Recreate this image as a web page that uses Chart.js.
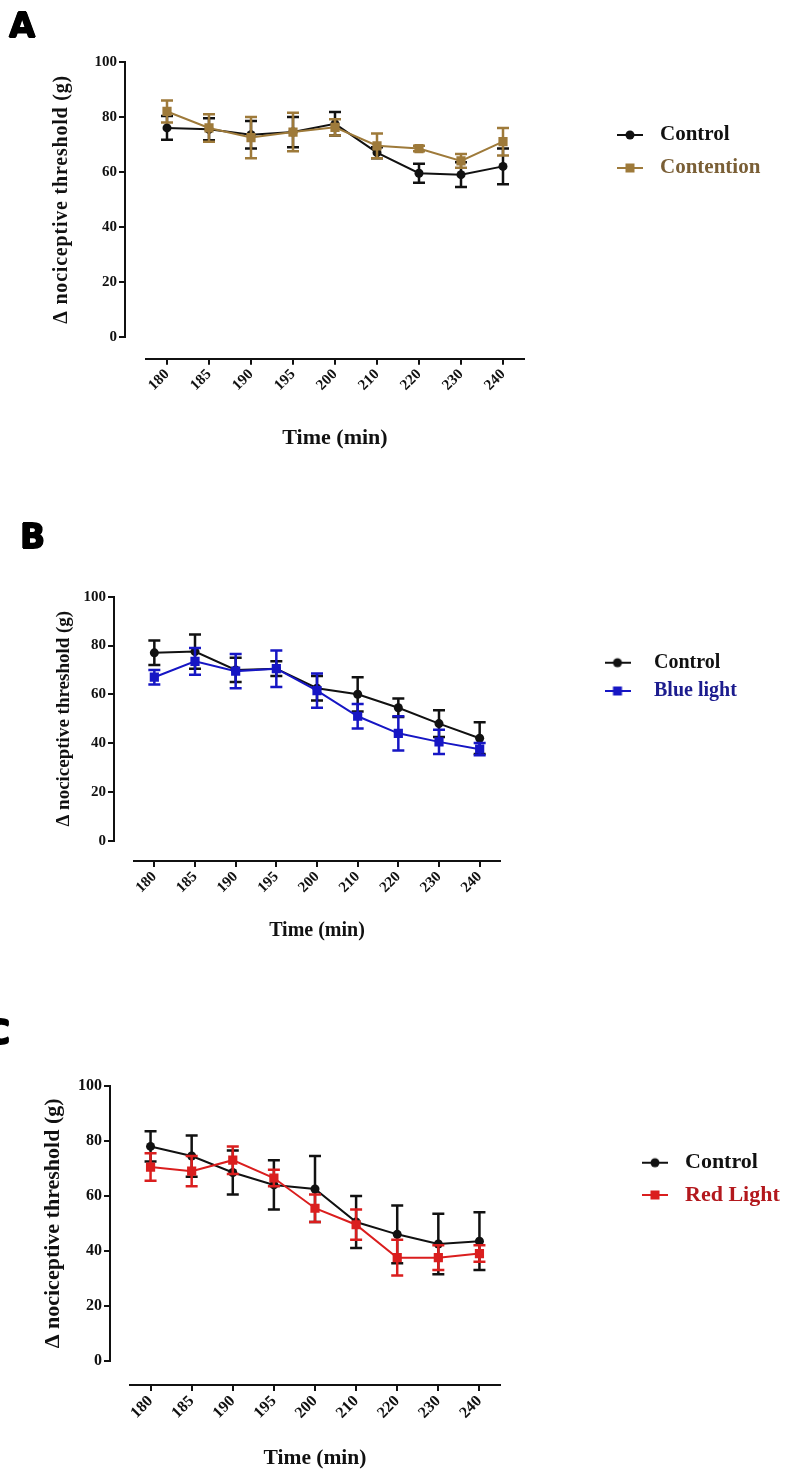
<!DOCTYPE html>
<html><head><meta charset="utf-8">
<script src="https://cdn.jsdelivr.net/npm/chart.js@4.4.1/dist/chart.umd.min.js"></script>
<style>
html,body{margin:0;padding:0;background:#fff;width:791px;height:1475px;overflow:hidden;position:relative;}
canvas{position:absolute;left:0;display:block;}
.tag{position:absolute;font-family:'DejaVu Sans',sans-serif;font-weight:bold;line-height:1;color:#000;z-index:2;
  text-shadow:0.7px 0 0 #000,-0.7px 0 0 #000,0 0.7px 0 #000,0 -0.7px 0 #000;}
</style></head><body>
<div class="tag" style="left:9px;top:8px;font-size:34px">A</div>
<div class="tag" style="left:20px;top:520px;font-size:33px">B</div>
<div class="tag" style="left:-14px;top:1016px;font-size:33px">C</div>
<canvas id="cA" width="791" height="480" style="top:0px"></canvas>
<canvas id="cB" width="791" height="500" style="top:480px"></canvas>
<canvas id="cC" width="791" height="495" style="top:980px"></canvas>
<script>
// ---- data ----
const timeLabels = ['180', '185', '190', '195', '200', '210', '220', '230', '240'];
const yMin = 0, yMax = 100, yStep = 20;

const controlA      = [76, 75.5, 73.5, 74.5, 77.5, 67, 59.5, 59, 62];
const controlAErr   = [4.3, 4, 5, 5.5, 4.3, 2, 3.5, 4.5, 6.5];
const contentionA   = [82, 76, 72.5, 74.5, 76.2, 69.5, 68.5, 64, 71];
const contentionAErr= [4, 5, 7.5, 7, 3, 4.5, 1, 2.5, 5];

const controlB      = [77, 77.5, 70, 70.5, 62.5, 60, 54.5, 48, 42];
const controlBErr   = [5, 7, 5, 3, 5, 7, 3.8, 5.5, 6.5];
const blueLightB    = [67, 73.5, 69.5, 70.5, 61.5, 51, 44, 40.5, 37.5];
const blueLightBErr = [3, 5.5, 7, 7.5, 7, 5, 7, 5, 2.5];

const controlC      = [78, 74.5, 68.5, 64, 62.5, 50.5, 46, 42.5, 43.5];
const controlCErr   = [5.5, 7.5, 8, 9, 12, 9.5, 10.5, 11, 10.5];
const redLightC     = [70.5, 69, 73, 66.5, 55.5, 49.5, 37.5, 37.5, 39];
const redLightCErr  = [5, 5.5, 5, 3, 5, 5.5, 6.5, 4.5, 3];

const yTitle = 'Δ nociceptive threshold (g)';
const xTitle = 'Time (min)';

// ---- helpers ----
const SERIF = "'Liberation Serif', 'Times New Roman', serif";

function markerImage(color, style) {
  const c = document.createElement('canvas');
  c.width = 26; c.height = 12;
  const g = c.getContext('2d');
  g.strokeStyle = color; g.lineWidth = 2;
  g.beginPath(); g.moveTo(0, 6); g.lineTo(26, 6); g.stroke();
  g.fillStyle = color;
  if (style === 'circle') { g.beginPath(); g.arc(13, 6, 4.5, 0, Math.PI * 2); g.fill(); }
  else { g.fillRect(8.5, 1.5, 9, 9); }
  return c;
}

function series(label, values, errors, color, textColor, style, order) {
  return {
    label, data: values, errorBars: errors, legendColor: textColor,
    borderColor: color, backgroundColor: color,
    pointBackgroundColor: color, pointBorderColor: color,
    pointStyle: style, pointRadius: style === 'circle' ? 4.5 : 6.5,
    pointBorderWidth: 0, borderWidth: 2, tension: 0, fill: false, order
  };
}

const errorBarPlugin = {
  id: 'errorBars',
  beforeDatasetDraw(chart, args) {
    const ds = chart.data.datasets[args.index];
    if (!ds.errorBars) return;
    const y = chart.scales.y, ctx = chart.ctx;
    ctx.save();
    ctx.strokeStyle = ds.borderColor;
    ctx.lineWidth = 2.5;
    args.meta.data.forEach((pt, i) => {
      const v = ds.data[i], e = ds.errorBars[i];
      const top = y.getPixelForValue(v + e), bot = y.getPixelForValue(v - e);
      ctx.beginPath();
      ctx.moveTo(pt.x, top); ctx.lineTo(pt.x, bot);
      ctx.moveTo(pt.x - 6, top); ctx.lineTo(pt.x + 6, top);
      ctx.moveTo(pt.x - 6, bot); ctx.lineTo(pt.x + 6, bot);
      ctx.stroke();
    });
    ctx.restore();
  }
};

function panel(id, p) {
  const lgBoxW = 2 * (p.legend.textX - p.legend.markerX) - p.legend.font;
  const lgPad = p.legend.rowGap - p.legend.font;
  const xLh = p.xTitleSize * 1.2;
  const xH = p.xTitleY + xLh / 2 - p.area.bottom - p.xGap;
  const yLh = p.yTitleSize * 1.2;
  const yTitlePad = p.yTitleX - (-p.yGap) - yLh / 2;

  const detachedAxes = {
    id: 'detachedAxes',
    afterLayout(chart) {
      const ys = chart.scales.y, xs = chart.scales.x;
      ys.left -= p.yGap; ys.right -= p.yGap;
      xs.top += p.xGap; xs.bottom += p.xGap;
      if (p.yTitleSpacing && !ys._spacedTitle) {
        const orig = ys.drawTitle;
        ys.drawTitle = function () {
          const ctx = this.ctx;
          ctx.save();
          ctx.letterSpacing = p.yTitleSpacing;
          orig.call(this);
          ctx.restore();
        };
        ys._spacedTitle = true;
      }
      const lg = chart.legend;
      if (lg) {
        lg.left = p.legend.markerX - lgPad - lgBoxW / 2;
        lg.top = p.legend.rowY - lgPad - p.legend.font / 2;
        lg.width = 330; lg.height = 150;
        lg.right = lg.left + lg.width; lg.bottom = lg.top + lg.height;
      }
    }
  };

  const tickFont = { family: SERIF, weight: 'bold', size: p.tickSize };
  new Chart(document.getElementById(id), {
    type: 'line',
    data: { labels: timeLabels, datasets: p.datasets },
    options: {
      responsive: false, animation: false, devicePixelRatio: 1,
      events: [],
      layout: { padding: { left: 0, top: p.area.top, right: 791 - p.area.right,
                           bottom: p.height - p.area.bottom - xH } },
      scales: {
        x: {
          type: 'category', offset: true,
          grid: { display: true, offset: false, drawOnChartArea: false, drawTicks: true,
                  tickLength: 6, color: '#111', lineWidth: 2 },
          border: { display: true, color: '#111', width: 2 },
          ticks: { autoSkip: false, minRotation: 45, maxRotation: 45, padding: 1,
                   color: '#111', font: tickFont },
          title: { display: true, text: xTitle, color: '#111', padding: 0,
                   font: { family: SERIF, weight: 'bold', size: p.xTitleSize } },
          afterFit: s => { s.height = xH; }
        },
        y: {
          min: yMin, max: yMax,
          grid: { display: true, drawOnChartArea: false, drawTicks: true,
                  tickLength: 6, color: '#111', lineWidth: 2 },
          border: { display: true, color: '#111', width: 2 },
          ticks: { stepSize: yStep, padding: 2, color: '#111', font: tickFont },
          title: { display: true, text: yTitle, color: '#111',
                   padding: { top: yTitlePad, bottom: 0 },
                   font: { family: SERIF, weight: 'bold', size: p.yTitleSize } },
          afterFit: s => { s.width = p.area.left; }
        }
      },
      plugins: {
        tooltip: { enabled: false },
        legend: {
          position: 'chartArea', align: 'start',
          labels: {
            usePointStyle: true, pointStyleWidth: lgBoxW, padding: lgPad,
            font: { family: SERIF, weight: 'bold', size: p.legend.font },
            generateLabels: chart => chart.data.datasets.map((ds, i) => ({
              text: ds.label, fontColor: ds.legendColor,
              pointStyle: markerImage(ds.borderColor, ds.pointStyle),
              fillStyle: ds.borderColor, strokeStyle: ds.borderColor,
              lineWidth: 0, hidden: false, datasetIndex: i
            }))
          }
        }
      }
    },
    plugins: [detachedAxes, errorBarPlugin]
  });
}

panel('cA', {
  height: 480,
  area: { left: 146, right: 524, top: 62, bottom: 336.7 },
  yGap: 21, xGap: 22,
  tickSize: 15, yTitleSize: 20, yTitleX: 62, yTitleSpacing: '0.8px',
  xTitleSize: 22, xTitleY: 438,
  legend: { markerX: 630, textX: 660, rowY: 135, rowGap: 33, font: 21 },
  datasets: [
    series('Control', controlA, controlAErr, '#111111', '#111111', 'circle', 1),
    series('Contention', contentionA, contentionAErr, '#9E7A3A', '#7A5F36', 'rect', 0)
  ]
});

panel('cB', {
  height: 500,
  area: { left: 134, right: 500, top: 116.7, bottom: 360.7 },
  yGap: 20, xGap: 20.3,
  tickSize: 15, yTitleSize: 19, yTitleX: 64, xTitleSize: 20, xTitleY: 450.7,
  legend: { markerX: 617.5, textX: 654, rowY: 182.7, rowGap: 28.3, font: 20 },
  datasets: [
    series('Control', controlB, controlBErr, '#111111', '#111111', 'circle', 1),
    series('Blue light', blueLightB, blueLightBErr, '#1616C4', '#1C1C8E', 'rect', 0)
  ]
});

panel('cC', {
  height: 495,
  area: { left: 130, right: 500, top: 106, bottom: 380.7 },
  yGap: 20, xGap: 24.3,
  tickSize: 16, yTitleSize: 22, yTitleX: 53, xTitleSize: 21.5, xTitleY: 478,
  legend: { markerX: 655, textX: 685, rowY: 182.7, rowGap: 32.3, font: 22 },
  datasets: [
    series('Control', controlC, controlCErr, '#111111', '#111111', 'circle', 1),
    series('Red Light', redLightC, redLightCErr, '#DA1E1E', '#B3181D', 'rect', 0)
  ]
});
</script>
</body></html>
